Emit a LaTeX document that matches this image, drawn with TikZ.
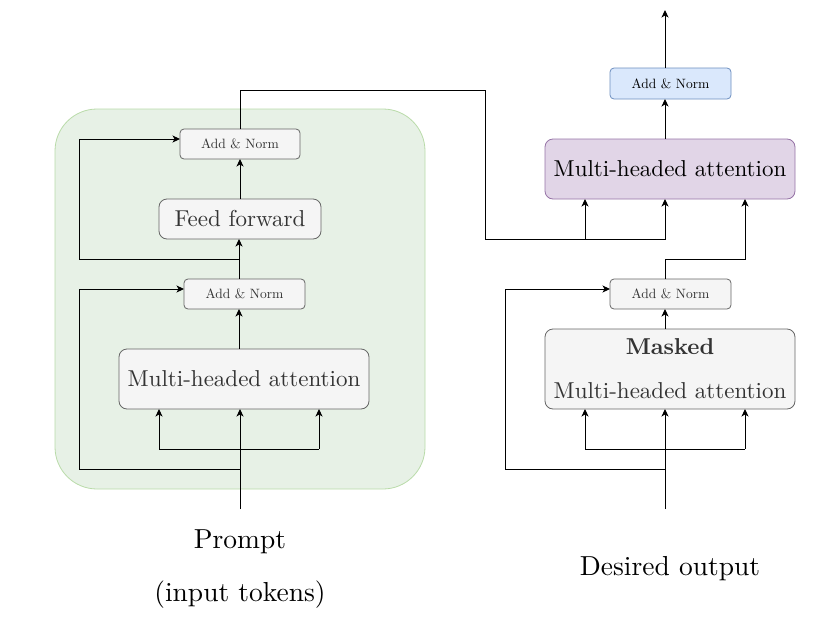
\documentclass[tikz,border=0pt]{standalone}
\usetikzlibrary{arrows.meta}
\definecolor{gfill}{HTML}{F5F5F5}
\definecolor{gline}{HTML}{666666}
\definecolor{gtext}{HTML}{333333}
\definecolor{grfill}{HTML}{E7F1E6}
\definecolor{grline}{HTML}{B9DBA9}
\definecolor{pfill}{HTML}{E1D5E7}
\definecolor{pline}{HTML}{9673A6}
\definecolor{bfill}{HTML}{DAE8FC}
\definecolor{bline}{HTML}{6C8EBF}
\newcommand{\txt}[2]{\scalebox{#1}{#2}}
\begin{document}
\begin{tikzpicture}[x=1pt,y=-1pt,
  gbox/.style={draw=gline, fill=gfill, text=gtext, rounded corners=4pt, inner sep=0pt, outer sep=0pt, line width=0.8pt},
  gbigbox/.style={gbox, rounded corners=8pt},
  pbox/.style={draw=pline, fill=pfill, text=black, rounded corners=8pt, inner sep=0pt, outer sep=0pt, line width=0.8pt},
  bbox/.style={draw=bline, fill=bfill, text=black, rounded corners=4pt, inner sep=0pt, outer sep=0pt, line width=0.8pt},
  container/.style={draw=grline, fill=grfill, rounded corners=42pt, inner sep=0pt, line width=0.8pt},
  lbl/.style={inner sep=0pt, text=black},
  ln/.style={line width=0.95pt},
  arr/.style={ln, -{Stealth[length=7.5pt,width=7pt,inset=2pt]}}]
\useasboundingbox (0,0) rectangle (815,635);

% ---------- encoder ----------
\node[container, minimum width=370, minimum height=380] (enc) at (240,299) {};
\node[gbox, minimum width=120, minimum height=30] (an1) at (240,144) {\txt{1.35}{Add \& Norm}};
\node[gbigbox, minimum width=162, minimum height=40] (ff) at (240,219) {\txt{2.3}{Feed forward}};
\node[gbox, minimum width=121, minimum height=30] (an2) at (244.5,294) {\txt{1.35}{Add \& Norm}};
\node[gbigbox, minimum width=250, minimum height=60] (mha1) at (244,379) {\txt{2.3}{Multi-headed attention}};
\node[lbl] (prompt) at (240,542) {\txt{2.75}{Prompt}};
\node[lbl] (tokens) at (240,595) {\txt{2.75}{(input tokens)}};

\coordinate (in1) at (240,509);
\draw[arr] (in1) -- (240,409);
\draw[ln] (159,449) -- (319,449);
\draw[arr] (159,449) -- (159,409);
\draw[arr] (319,449) -- (319,409);
\draw[arr] (240,469) -- (79,469) -- (79,289) -- (184,289);
\draw[arr] (239,349) -- (239,309);
\draw[arr] (239,279) -- (239,239);
\draw[arr] (240,259) -- (79,259) -- (79,139) -- (180,139);
\draw[arr] (240,199) -- (240,159);

% ---------- decoder ----------
\node[bbox, minimum width=121, minimum height=31] (an3) at (670.5,83.5) {\txt{1.35}{Add \& Norm}};
\node[pbox, minimum width=250, minimum height=60] (mha2) at (670,169) {\txt{2.3}{Multi-headed attention}};
\node[gbox, minimum width=121, minimum height=30] (an4) at (670.5,294) {\txt{1.35}{Add \& Norm}};
\node[gbigbox, minimum width=250, minimum height=80] (mmha) at (670,369) {};
\node[lbl, text=gtext] (masked) at (670,347) {\txt{2.3}{\textbf{Masked}}};
\node[lbl, text=gtext] (mmtxt) at (670,391) {\txt{2.3}{Multi-headed attention}};
\node[lbl] (desired) at (670,569) {\txt{2.75}{Desired output}};

% encoder output to decoder attention
\draw[arr] (240,129) -- (240,90) -- (485,90) -- (485,239) -- (665,239) -- (665,199);
\draw[arr] (585,239) -- (585,199);

\coordinate (out) at (665,10);
\draw[arr] (665,68) -- (out);
\draw[arr] (665,139) -- (665,99);
\draw[arr] (665,279) -- (665,259) -- (745,259) -- (745,199);
\draw[arr] (665,329) -- (665,309);

\coordinate (in2) at (665,509);
\draw[arr] (in2) -- (665,409);
\draw[ln] (585,449) -- (745,449);
\draw[arr] (585,449) -- (585,409);
\draw[arr] (745,449) -- (745,409);
\draw[arr] (665,469) -- (505,469) -- (505,289) -- (610,289);
\end{tikzpicture}
\end{document}
